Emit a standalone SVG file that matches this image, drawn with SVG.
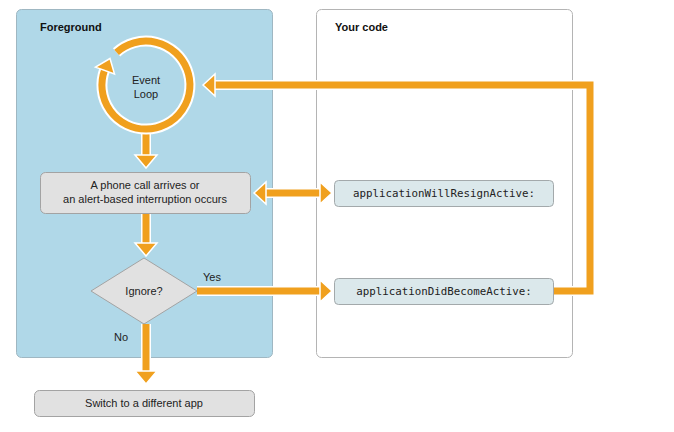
<svg xmlns="http://www.w3.org/2000/svg" width="674" height="432" viewBox="0 0 674 432">
<defs>
<style>
.panel-fg{fill:#b0d8e8;stroke:#9fb7c2;stroke-width:1}
.panel-code{fill:#ffffff;stroke:#b4b4b4;stroke-width:1}
.box{fill:#e1e1e1;stroke:#a3a3a3;stroke-width:1}
.code{fill:#dbe8eb;stroke:#a3a9ab;stroke-width:1}
.t{font-family:"Liberation Sans",Arial,sans-serif;font-size:11px;fill:#222;text-anchor:middle}
.h{font-family:"Liberation Sans",Arial,sans-serif;font-size:11px;font-weight:bold;fill:#111}
.m{font-family:"DejaVu Sans Mono","Liberation Mono",monospace;font-size:10.8px;fill:#222;text-anchor:middle}
.lbl{font-family:"Liberation Sans",Arial,sans-serif;font-size:11px;fill:#222}
.wl{fill:none;stroke:#ffffff;stroke-width:10}
.ol{fill:none;stroke:#f0a01e;stroke-width:7}
.ah{fill:#f0a01e;stroke:#ffffff;stroke-width:1.5;stroke-linejoin:miter}
</style>
</defs>
<rect width="674" height="432" fill="#ffffff"/>
<g id="foreground">
<rect class="panel-fg" x="16.5" y="9.5" width="256" height="348" rx="5"/>
<text class="h" x="40" y="31">Foreground</text>
</g>
<g id="your-code">
<rect class="panel-code" x="316.5" y="9.5" width="256" height="348" rx="5"/>
<text class="h" x="335" y="31">Your code</text>
</g>
<g id="connectors">
<path class="wl" d="M553,291 H590 V85 H212" stroke-width="9"/>
<path class="wl" d="M197,291 H322"/>
<path class="wl" d="M146,324 V372"/>
<path class="wl" d="M146,213 V244"/>
<path class="wl" d="M264,193 H322"/>
<path class="wl" d="M146,133 V156"/>
<path class="ol" d="M553,291 H590 V85 H212"/>
<path class="ol" d="M197,291 H322"/>
<path class="ol" d="M146,324 V372"/>
<path class="ol" d="M146,213 V244"/>
<path class="ol" d="M264,193 H322"/>
<path class="ol" d="M146,133 V156"/>
<polygon class="ah" points="203,85 215,74 215,96"/>
<polygon class="ah" points="332,291 320,280 320,302"/>
<polygon class="ah" points="146,384 135,371 157,371"/>
<polygon class="ah" points="146,256 135,243 157,243"/>
<polygon class="ah" points="254,193 266,182 266,204"/>
<polygon class="ah" points="332,193 320,182 320,204"/>
<polygon class="ah" points="146,168 135,155 157,155"/>
</g>
<g id="event-loop">
<path d="M116.6,52.3 A44,44 0 1 1 104.6,70" fill="none" stroke="#ffffff" stroke-width="11"/>
<path d="M116.6,52.3 A44,44 0 1 1 104.6,70" fill="none" stroke="#f0a01e" stroke-width="7"/>
<polygon class="ah" points="110,58.5 95.5,67.2 114.5,74"/>
<text class="t" x="146" y="84">Event</text>
<text class="t" x="146" y="98">Loop</text>
</g>
<g id="phone-call">
<rect class="box" x="40.5" y="172.5" width="210" height="41" rx="5"/>
<text class="t" x="145" y="189">A phone call arrives or</text>
<text class="t" x="145" y="203">an alert-based interruption occurs</text>
</g>
<g id="ignore">
<polygon class="box" points="144,258 197,291 144,324 91,291" stroke-linejoin="round"/>
<text class="t" x="144" y="295">Ignore?</text>
</g>
<g id="label-yes"><text class="lbl" x="203" y="281">Yes</text></g>
<g id="label-no"><text class="lbl" x="114" y="341">No</text></g>
<g id="switch-app">
<rect class="box" x="34.5" y="390.5" width="220" height="26" rx="5"/>
<text class="t" x="144" y="407">Switch to a different app</text>
</g>
<g id="will-resign">
<rect class="code" x="334.5" y="180.5" width="219" height="26" rx="4"/>
<text class="m" x="444" y="197">applicationWillResignActive:</text>
</g>
<g id="did-become">
<rect class="code" x="334.5" y="278.5" width="219" height="26" rx="4"/>
<text class="m" x="444" y="295">applicationDidBecomeActive:</text>
</g>
</svg>
